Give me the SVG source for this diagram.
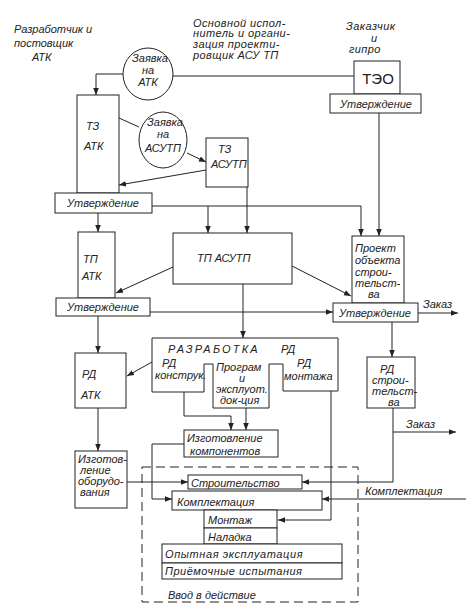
<svg xmlns="http://www.w3.org/2000/svg" width="466" height="612" viewBox="0 0 466 612">
<style>
.ln{stroke:#222;stroke-width:1;fill:none}
.ar{stroke:#222;stroke-width:1;fill:none;marker-end:url(#ah)}
.bx{fill:#fff;stroke:#222;stroke-width:1}
.ds{fill:none;stroke:#222;stroke-width:1;stroke-dasharray:9,5}
text{font-family:"Liberation Sans",Arial,sans-serif;font-style:italic;fill:#222;font-size:11px}
.m{text-anchor:middle}
.big{font-size:15px;font-style:normal}
</style>
<defs>
<marker id="ah" viewBox="0 0 10 10" refX="10" refY="5" markerWidth="7" markerHeight="7" markerUnits="userSpaceOnUse" orient="auto">
<path d="M0,1 L10,5 L0,9 Z" fill="#222"/>
</marker>
</defs>
<rect width="466" height="612" fill="#fff"/>

<g id="labels">
<text x="14" y="33" font-size="12">Разработчик и</text>
<text x="14" y="47" font-size="12">постовщик</text>
<text x="32" y="61" font-size="12" font-style="normal">АТК</text>
<text x="193" y="26.5" font-size="9.5" letter-spacing="0.4">Основной испол-</text>
<text x="193" y="37.2" font-size="9.5" letter-spacing="0.4">нитель и органи-</text>
<text x="193" y="47.9" font-size="9.5" letter-spacing="0.4">зация проекти-</text>
<text x="193" y="58.6" font-size="9.5" letter-spacing="0.4">ровщик АСУ ТП</text>
<text x="346" y="30" font-size="9.5" letter-spacing="0.5">Заказчик</text>
<text x="371" y="41.5" font-size="8">и</text>
<text x="349" y="52.5" font-size="9.5" letter-spacing="0.4">гипро</text>
</g>

<g id="connectors">
<path class="ar" d="M123,74 H96 V95"/>
<path class="ln" d="M173,76 H354"/>
<path class="ln" d="M119,118 L139,127"/>
<path class="ar" d="M187,153 L206,162"/>
<path class="ar" d="M206,170 L119,185"/>
<path class="ar" d="M379,113 V236"/>
<path class="ar" d="M152,206 H361 V236"/>
<path class="ar" d="M98,213 V232"/>
<path class="ar" d="M208,206 V233"/>
<path class="ar" d="M247,187 V233"/>
<path class="ar" d="M173,267 L116,293"/>
<path class="ar" d="M292,266 L351,296"/>
<path class="ar" d="M150,312 H333"/>
<path class="ar" d="M418,313 H458"/>
<path class="ar" d="M243,284 V338"/>
<path class="ar" d="M98,316 V353"/>
<path class="ar" d="M152,362 L127,376"/>
<path class="ar" d="M98,408 V451"/>
<path class="ar" d="M184,392 V416 H231 V430"/>
<path class="ar" d="M246,408 V430"/>
<path class="ar" d="M331,391 V520 H278"/>
<path class="ar" d="M184,444 H152 V499 H172"/>
<path class="ar" d="M127,482 H188"/>
<path class="ar" d="M392,322 V357"/>
<path class="ar" d="M393,408 V482 H302"/>
<path class="ar" d="M393,432 H456"/>
<path class="ar" d="M466,499 H322"/>
<text x="423" y="308" font-size="9">Заказ</text>
<text x="406" y="428" font-size="10">Заказ</text>
<text x="365" y="495" font-size="10">Комплектация</text>
</g>

<g id="zayavka-atk">
<ellipse class="bx" cx="148" cy="74" rx="25" ry="26"/>
<text class="m" x="150" y="62" font-size="9.5">Заявка</text>
<text class="m" x="148" y="73.5" font-size="8.5">на</text>
<text class="m" x="148" y="85.5" font-size="10" font-style="normal">АТК</text>
</g>

<g id="teo">
<rect class="bx" x="354" y="61" width="46" height="33"/>
<text class="m big" x="378" y="84">ТЭО</text>
</g>
<g id="utv1">
<rect class="bx" x="330" y="94" width="91" height="19"/>
<text class="m" x="376" y="108">Утверждение</text>
</g>

<g id="tz-atk">
<rect class="bx" x="77" y="95" width="42" height="98"/>
<text x="86" y="130" font-size="12" font-style="normal">ТЗ</text>
<text x="84" y="150" font-size="12">АТК</text>
</g>

<g id="zayavka-asutp">
<ellipse class="bx" cx="163" cy="140" rx="24" ry="28"/>
<text class="m" x="165" y="126" font-size="10">Заявка</text>
<text class="m" x="163" y="138" font-size="10">на</text>
<text class="m" x="163" y="152" font-size="10">АСУТП</text>
</g>

<g id="tz-asutp">
<rect class="bx" x="206" y="138" width="42" height="49"/>
<text x="218" y="153" font-size="11" font-style="normal">ТЗ</text>
<text x="211" y="168" font-size="11">АСУТП</text>
</g>

<g id="utv2">
<rect class="bx" x="55" y="193" width="97" height="20"/>
<text class="m" x="103" y="207" font-size="12">Утверждение</text>
</g>

<g id="tp-atk">
<rect class="bx" x="78" y="232" width="37" height="66"/>
<text x="83" y="263" font-size="12" font-style="normal">ТП</text>
<text x="82" y="280" font-size="12">АТК</text>
</g>

<g id="tp-asutp">
<rect class="bx" x="173" y="233" width="119" height="51"/>
<text x="197" y="262" font-size="12">ТП  АСУТП</text>
</g>

<g id="proekt">
<rect class="bx" x="352" y="236" width="52" height="67"/>
<text x="355" y="252" font-size="10.5">Проект</text>
<text x="355" y="264" font-size="10.5">объекта</text>
<text x="355" y="276" font-size="10">строи-</text>
<text x="355" y="287" font-size="9.5">тельст-</text>
<text x="368" y="298" font-size="9.5">ва</text>
</g>

<g id="utv3">
<rect class="bx" x="56" y="298" width="94" height="18"/>
<text class="m" x="103" y="311" font-size="12">Утверждение</text>
</g>

<g id="utv4">
<rect class="bx" x="333" y="303" width="85" height="19"/>
<text class="m" x="375" y="317" font-size="11.5">Утверждение</text>
</g>

<g id="rd-atk">
<rect class="bx" x="75" y="353" width="51" height="55"/>
<text x="82" y="378" font-size="16" font-style="normal">РД</text>
<text x="81" y="399" font-size="15" font-style="normal">АТК</text>
</g>

<g id="razrabotka-rd">
<path class="bx" d="M152,338 H338 V391 H283 V364 H269 V408 H213 V364 H204 V392 H152 Z"/>
<text x="168" y="353" font-size="11" letter-spacing="2.2">РАЗРАБОТКА</text>
<text x="281" y="353" font-size="12">РД</text>
<text x="162" y="367" font-size="10">РД</text>
<text x="155" y="379" font-size="9.5">конструк.</text>
<text x="216" y="370.5" font-size="9.5">Програм</text>
<text x="239" y="381.5" font-size="9.5">и</text>
<text x="216" y="392.5" font-size="9.5">эксплуот.</text>
<text x="220" y="403.5" font-size="9.5">док-ция</text>
<text x="297" y="367" font-size="10">РД</text>
<text x="284" y="380" font-size="9.5">монтажа</text>
</g>

<g id="izg-komp">
<rect class="bx" x="184" y="430" width="94" height="27"/>
<text x="187" y="442" font-size="11">Изготовление</text>
<text x="190" y="454.5" font-size="11">компонентов</text>
</g>

<g id="izg-obor">
<rect class="bx" x="75" y="451" width="52" height="57"/>
<text x="78" y="462.5" font-size="10">Изготов-</text>
<text x="80" y="473.8" font-size="10">ление</text>
<text x="78" y="485.1" font-size="10">оборудо-</text>
<text x="80" y="496.4" font-size="10">вания</text>
</g>

<g id="rd-stroit">
<rect class="bx" x="367" y="357" width="48" height="51"/>
<text x="380" y="372.5" font-size="12" font-style="normal">РД</text>
<text x="372" y="384" font-size="10">строи-</text>
<text x="372" y="395.3" font-size="10">тельст-</text>
<text x="388" y="406" font-size="9">ва</text>
</g>

<g id="vvod">
<rect class="ds" x="142" y="467" width="216" height="135"/>
<text x="168" y="599" font-size="12">Ввод  в  действие</text>
</g>

<g id="stroitelstvo">
<rect class="bx" x="188" y="475" width="114" height="14"/>
<text x="191" y="487" font-size="11.5">Строительство</text>
</g>
<g id="komplektacia">
<rect class="bx" x="172" y="491" width="150" height="19"/>
<text x="177" y="506" font-size="14">Комплектация</text>
</g>
<g id="montazh">
<rect class="bx" x="204" y="510" width="73" height="18"/>
<text x="208" y="524" font-size="12.5">Монтаж</text>
</g>
<g id="naladka">
<rect class="bx" x="204" y="528" width="73" height="16"/>
<text x="208" y="541" font-size="12.5">Наладка</text>
</g>
<g id="opytnaya">
<rect class="bx" x="162" y="544" width="180" height="19"/>
<text x="165" y="558" font-size="11.5" letter-spacing="0.6">Опытная  эксплуатация</text>
</g>
<g id="priemochnye">
<rect class="bx" x="162" y="563" width="180" height="16"/>
<text x="165" y="575" font-size="11.5" letter-spacing="0.5">Приёмочные  испытания</text>
</g>
</svg>
